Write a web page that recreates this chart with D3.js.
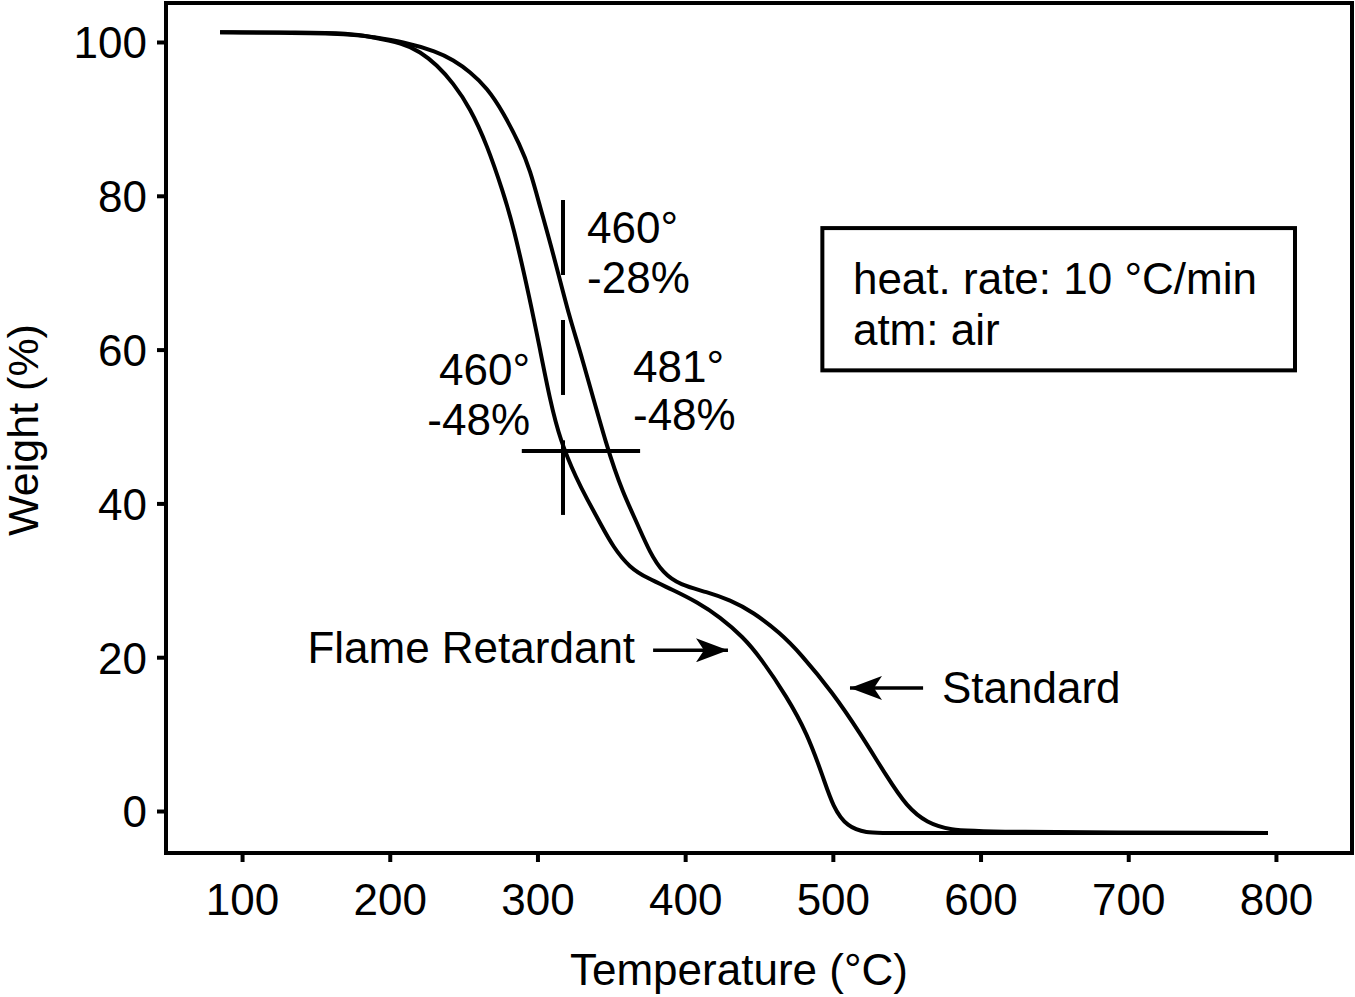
<!DOCTYPE html>
<html>
<head>
<meta charset="utf-8">
<script src="https://cdn.jsdelivr.net/npm/d3@7"></script>
<style>
  body { margin: 0; background: #fff; }
  text { font-family: "Liberation Sans", Arial, sans-serif; fill: #000; }
</style>
</head>
<body>
<script>
// Dados (temperatura em °C, peso em %)
const flameTemp = [85.1, 139.3, 173.1, 186.7, 209, 220.5, 232, 242.9, 254.4, 265.9, 276.7, 283.5, 295, 301.8, 308.5, 315.3, 326.8, 333.6, 342.4, 351.2, 362.7, 374.2, 391.8, 408.1, 423.6, 439.2, 450.7, 469, 482.5, 493.4, 500.1, 509.6, 523.2, 534, 794.6];
const flameWeight = [101.26, 101.24, 101.13, 100.69, 99.83, 98.74, 97.01, 94.67, 91.42, 86.61, 80.5, 76.2, 66.45, 59.95, 53.45, 48.24, 43.04, 40.57, 37.45, 34.33, 31.6, 30.3, 28.74, 27.18, 25.23, 22.63, 20.03, 14.82, 10.14, 4.42, 0.52, -2.08, -2.86, -2.86, -2.86];

const standardTemp = [85.1, 173.1, 186.7, 209, 232, 242.9, 254.4, 265.9, 276.7, 288.2, 295, 301.8, 310.6, 322.1, 328.8, 347.8, 358, 367.4, 376.2, 385, 396.5, 414.8, 430.4, 446, 464.3, 477.8, 500.1, 518.4, 536.7, 550.2, 563.8, 579.4, 601.7, 794.6];
const standardWeight = [101.26, 101.13, 100.69, 100.04, 98.74, 97.66, 96.14, 94.02, 90.9, 86.6, 83.36, 78.54, 72.56, 63.85, 59.95, 46.68, 41.35, 37.45, 33.55, 30.95, 29.39, 28.48, 27.44, 25.88, 23.15, 20.55, 15.34, 10.14, 4.42, 0.52, -1.56, -2.47, -2.73, -2.86];

const xTicks = [100, 200, 300, 400, 500, 600, 700, 800];
const yTicks = [0, 20, 40, 60, 80, 100];

// Marcas de anotação (coordenadas em dados)
const markTemp = 317.3;
const markSegments = [[79.45, 69.7], [63.85, 54.1], [48.2, 38.5]];
const crossWeight = 46.8;
const crossTemp = [289.4, 369.5];

const annoLabels = [
  { t: 333.6, w: [73.9, 67.4], lines: ["460°", "-28%"], anchor: "start" },
  { t: 295, w: [55.4, 48.9], lines: ["460°", "-48%"], anchor: "end" },
  { t: 364.7, w: [55.8, 49.5], lines: ["481°", "-48%"], anchor: "start" }
];

const seriesNames = ["Flame Retardant", "Standard"];
const arrows = [
  { from: [378.3, 20.9], to: [429, 20.9], label: [366.1, 19.2], anchor: "end" },
  { from: [561.1, 16.0], to: [511.6, 16.0], label: [573.9, 14.0], anchor: "start" }
];

const infoLines = ["heat. rate: 10 °C/min", "atm: air"];
const infoBox = { t0: 492.9, t1: 812.9, w0: 75.8, w1: 57.3 };
const infoBaselines = [67.2, 60.6];

// Seleciona o SVG
const svg = d3.select("body").append("svg")
    .attr("width", 1355)
    .attr("height", 997);

const x = d3.scaleLinear().domain([48.5, 851.5]).range([166, 1352]);
const y = d3.scaleLinear().domain([-5.46, 105.07]).range([853, 3]);

// Eixos
const xAxis = svg.append("g")
    .attr("transform", "translate(0,853)")
    .call(d3.axisBottom(x).tickValues(xTicks).tickSize(9).tickPadding(22));

const yAxis = svg.append("g")
    .attr("transform", "translate(166,0)")
    .call(d3.axisLeft(y).tickValues(yTicks).tickSize(9).tickPadding(10));

[xAxis, yAxis].forEach(g => {
    g.select(".domain").remove();
    g.selectAll("line").attr("stroke", "#000").attr("stroke-width", 4);
    g.selectAll("text").attr("font-size", 44).attr("font-family", null);
});
yAxis.selectAll("text").attr("dy", "0.36em");

// Moldura
svg.append("rect")
    .attr("x", x.range()[0])
    .attr("y", y.range()[1])
    .attr("width", x.range()[1] - x.range()[0])
    .attr("height", y.range()[0] - y.range()[1])
    .attr("fill", "none")
    .attr("stroke", "#000")
    .attr("stroke-width", 4);

// Títulos
svg.append("text")
    .attr("x", 570)
    .attr("y", 985)
    .attr("font-size", 44)
    .text("Temperature (°C)");

svg.append("text")
    .attr("transform", "translate(38,430) rotate(-90)")
    .attr("text-anchor", "middle")
    .attr("font-size", 43)
    .text("Weight (%)");

// Curvas (B-spline suaviza os pontos lidos à mão)
const line = d3.line()
    .x(d => x(d[0]))
    .y(d => y(d[1]))
    .curve(d3.curveBasis);

const flame = d3.zip(flameTemp, flameWeight);
const standard = d3.zip(standardTemp, standardWeight);

svg.selectAll(".curve")
    .data([flame, standard])
    .enter().append("path")
    .attr("class", "curve")
    .attr("d", line)
    .attr("fill", "none")
    .attr("stroke", "#000")
    .attr("stroke-width", 4)
    .attr("stroke-linejoin", "round");

// Marcas verticais e cruz
svg.selectAll(".mark")
    .data(markSegments)
    .enter().append("line")
    .attr("x1", x(markTemp)).attr("x2", x(markTemp))
    .attr("y1", d => y(d[0])).attr("y2", d => y(d[1]))
    .attr("stroke", "#000")
    .attr("stroke-width", 4);

svg.append("line")
    .attr("x1", x(crossTemp[0])).attr("x2", x(crossTemp[1]))
    .attr("y1", y(crossWeight)).attr("y2", y(crossWeight))
    .attr("stroke", "#000")
    .attr("stroke-width", 4);

// Textos das anotações
annoLabels.forEach(a => {
    a.lines.forEach((s, i) => {
        svg.append("text")
            .attr("x", x(a.t))
            .attr("y", y(a.w[i]))
            .attr("text-anchor", a.anchor)
            .attr("font-size", 44)
            .text(s);
    });
});

// Setas
svg.append("defs").append("marker")
    .attr("id", "arrow")
    .attr("viewBox", "0 0 32 24")
    .attr("refX", 32)
    .attr("refY", 12)
    .attr("markerWidth", 32)
    .attr("markerHeight", 24)
    .attr("markerUnits", "userSpaceOnUse")
    .attr("orient", "auto")
    .append("path")
    .attr("d", "M0,0 L32,12 L0,24 L8,12 Z")
    .attr("fill", "#000");

arrows.forEach((a, i) => {
    svg.append("line")
        .attr("x1", x(a.from[0])).attr("y1", y(a.from[1]))
        .attr("x2", x(a.to[0])).attr("y2", y(a.to[1]))
        .attr("stroke", "#000")
        .attr("stroke-width", 3.5)
        .attr("marker-end", "url(#arrow)");

    svg.append("text")
        .attr("x", x(a.label[0]))
        .attr("y", y(a.label[1]))
        .attr("text-anchor", a.anchor)
        .attr("font-size", 44)
        .text(seriesNames[i]);
});

// Caixa de informação
svg.append("rect")
    .attr("x", x(infoBox.t0))
    .attr("y", y(infoBox.w0))
    .attr("width", x(infoBox.t1) - x(infoBox.t0))
    .attr("height", y(infoBox.w1) - y(infoBox.w0))
    .attr("fill", "#fff")
    .attr("stroke", "#000")
    .attr("stroke-width", 4);

infoLines.forEach((s, i) => {
    svg.append("text")
        .attr("x", x(513.6))
        .attr("y", y(infoBaselines[i]))
        .attr("font-size", 44)
        .text(s);
});
</script>
</body>
</html>
